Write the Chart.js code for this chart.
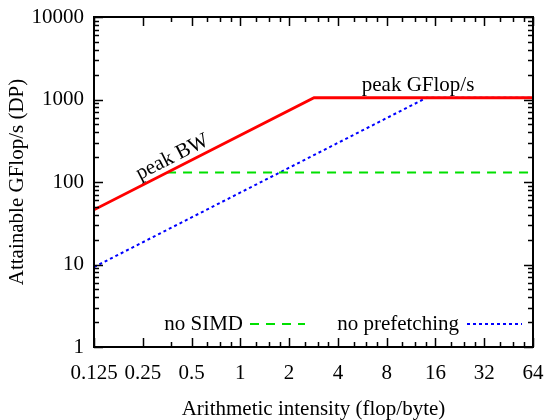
<!DOCTYPE html>
<html>
<head>
<meta charset="utf-8">
<script src="https://cdn.jsdelivr.net/npm/chart.js@4"></script>
<style>
  html, body { margin: 0; padding: 0; background: #fff; }
  #wrap { width: 547px; height: 420px; }
</style>
</head>
<body>
<div id="wrap"><canvas id="roofcnv"></canvas></div>
<script>
// roofline values
const roofX = [0.125, 2.85, 64];
const roofY = [46, 1050, 1050];
const noSimdX = [0.353, 64];
const noSimdY = [130, 130];
const noPrefX = [0.125, 14.1, 64];
const noPrefY = [9.3, 1050, 1050];

const xTicks = [0.125, 0.25, 0.5, 1, 2, 4, 8, 16, 32, 64];
const yTicks = [1, 10, 100, 1000, 10000];

const FONT = "'Liberation Serif', 'Times New Roman', serif";

function toPoints(xs, ys) {
  return xs.map((x, i) => ({x: x, y: ys[i]}));
}

// gnuplot-ish minor tics
function xMinor() {
  const out = [0.375];
  xTicks.slice(2, -1).forEach(v => [1.25, 1.5, 1.75].forEach(m => out.push(v * m)));
  return out;
}
function yMinor() {
  const out = [];
  yTicks.slice(0, -1).forEach(v => {
    for (let m = 2; m < 10; m++) out.push(v * m);
  });
  return out;
}

const framePlugin = {
  id: 'frame',
  afterDatasetsDraw(chart) {
    const {ctx, chartArea: a, scales} = chart;
    const xs = scales.x, ys = scales.y;
    ctx.save();
    ctx.strokeStyle = '#000';
    ctx.lineWidth = 1.5;
    ctx.beginPath();
    const tick = (px, len, horiz) => {
      if (horiz) {
        ctx.moveTo(px, a.bottom); ctx.lineTo(px, a.bottom - len);
        ctx.moveTo(px, a.top); ctx.lineTo(px, a.top + len);
      } else {
        ctx.moveTo(a.left, px); ctx.lineTo(a.left + len, px);
        ctx.moveTo(a.right, px); ctx.lineTo(a.right - len, px);
      }
    };
    xTicks.forEach(v => tick(Math.round(xs.getPixelForValue(v)) + 0.5, 9, true));
    xMinor().forEach(v => tick(Math.round(xs.getPixelForValue(v)) + 0.5, 5, true));
    yTicks.forEach(v => tick(Math.round(ys.getPixelForValue(v)) + 0.5, 9, false));
    yMinor().forEach(v => tick(Math.round(ys.getPixelForValue(v)) + 0.5, 5, false));
    ctx.stroke();
    ctx.lineWidth = 2;
    ctx.strokeRect(a.left, a.top, a.right - a.left, a.bottom - a.top);

    // labels on the roof
    ctx.fillStyle = '#000';
    ctx.font = '21px ' + FONT;
    ctx.textAlign = 'center';
    ctx.textBaseline = 'middle';
    const p0x = xs.getPixelForValue(roofX[0]), p0y = ys.getPixelForValue(roofY[0]);
    const p1x = xs.getPixelForValue(roofX[1]), p1y = ys.getPixelForValue(roofY[1]);
    const ang = Math.atan2(p1y - p0y, p1x - p0x);
    ctx.save();
    ctx.translate(xs.getPixelForValue(0.38), ys.getPixelForValue(200));
    ctx.rotate(ang);
    ctx.fillText('peak BW', 0, 0);
    ctx.restore();
    ctx.fillText('peak GFlop/s', xs.getPixelForValue(12.5), ys.getPixelForValue(1460));

    // legend, text left of sample, bottom right
    const ly = a.bottom - 23;
    const entries = [
      {ds: chart.data.datasets[1], textRight: a.right - 290, x0: a.right - 283, x1: a.right - 228},
      {ds: chart.data.datasets[2], textRight: a.right - 74, x0: a.right - 66, x1: a.right - 11}
    ];
    entries.forEach(e => {
      ctx.textAlign = 'right';
      ctx.fillText(e.ds.label, e.textRight, ly);
      ctx.strokeStyle = e.ds.borderColor;
      ctx.lineWidth = e.ds.borderWidth;
      ctx.setLineDash(e.ds.borderDash);
      ctx.beginPath();
      ctx.moveTo(e.x0, ly);
      ctx.lineTo(e.x1, ly);
      ctx.stroke();
      ctx.setLineDash([]);
    });
    ctx.restore();
  }
};

const ctx = document.getElementById('roofcnv').getContext('2d');
new Chart(ctx, {
  type: 'scatter',
  data: {
    datasets: [{
      label: 'peak',
      data: toPoints(roofX, roofY),
      borderColor: '#ff0000',
      borderWidth: 2.8,
      borderDash: [],
      showLine: true,
      pointRadius: 0
    }, {
      label: 'no SIMD',
      data: toPoints(noSimdX, noSimdY),
      borderColor: '#00e000',
      borderWidth: 2,
      borderDash: [9, 7],
      showLine: true,
      pointRadius: 0
    }, {
      label: 'no prefetching',
      data: toPoints(noPrefX, noPrefY),
      borderColor: '#0000ff',
      borderWidth: 2,
      borderDash: [3, 3],
      showLine: true,
      pointRadius: 0
    }]
  },
  options: {
    responsive: true,
    maintainAspectRatio: false,
    animation: false,
    layout: {padding: {top: 17, right: 14, left: 0, bottom: 0}},
    plugins: {legend: {display: false}, tooltip: {enabled: false}},
    scales: {
      x: {
        type: 'logarithmic',
        min: 0.125,
        max: 64,
        afterBuildTicks: s => { s.ticks = xTicks.map(v => ({value: v})); },
        afterFit: s => { s.height = 73; s.paddingLeft = 0; s.paddingRight = 0; },
        grid: {display: false, drawTicks: false},
        border: {display: false},
        ticks: {
          autoSkip: false,
          maxRotation: 0,
          padding: 14,
          color: '#000',
          font: {family: FONT, size: 21},
          callback: v => String(v)
        },
        title: {
          display: true,
          text: 'Arithmetic intensity (flop/byte)',
          color: '#000',
          font: {family: FONT, size: 21, lineHeight: 1},
          padding: {top: 0, bottom: 0}
        }
      },
      y: {
        type: 'logarithmic',
        min: 1,
        max: 10000,
        afterBuildTicks: s => { s.ticks = yTicks.map(v => ({value: v})); },
        afterFit: s => { s.width = 94; s.paddingTop = 0; s.paddingBottom = 0; },
        grid: {display: false, drawTicks: false},
        border: {display: false},
        ticks: {
          autoSkip: false,
          padding: 10,
          color: '#000',
          font: {family: FONT, size: 21},
          callback: v => String(v)
        },
        title: {
          display: true,
          text: 'Attainable GFlop/s (DP)',
          color: '#000',
          font: {family: FONT, size: 21, lineHeight: 1},
          padding: {top: 7, bottom: 0}
        }
      }
    }
  },
  plugins: [framePlugin]
});
</script>
</body>
</html>
